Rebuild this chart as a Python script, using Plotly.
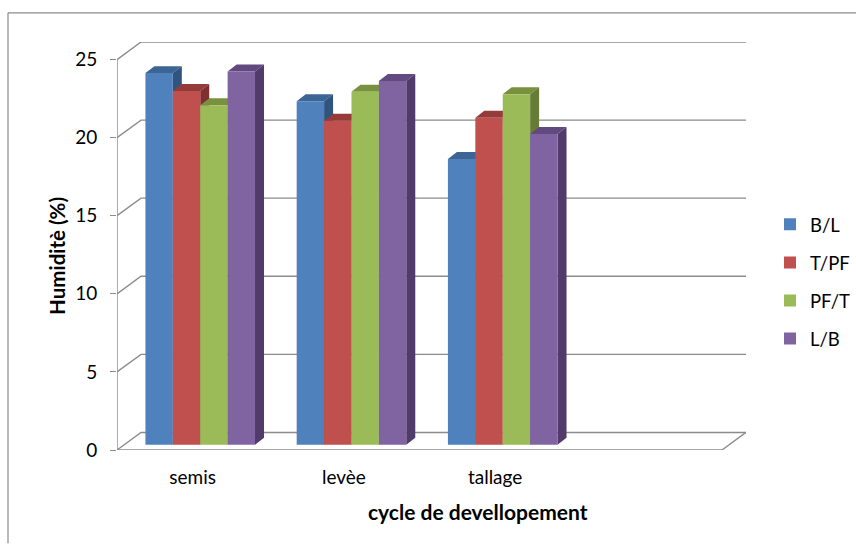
import plotly.graph_objects as go

categories = ["semis", "levèe", "tallage"]
series_names = ["B/L", "T/PF", "PF/T", "L/B"]
bl = [23.8, 22.0, 18.3]
tpf = [22.65, 20.75, 20.95]
pft = [21.75, 22.6, 22.45]
lb = [23.9, 23.3, 19.9]
series_values = [bl, tpf, pft, lb]
front_colors = ["#4F81BD", "#C0504D", "#9BBB59", "#8064A2"]
top_colors = ["#3C6494", "#953B39", "#77913F", "#62497F"]
side_colors = ["#2F5480", "#7F302E", "#667C36", "#513B6B"]
y_ticks = [0, 5, 10, 15, 20, 25]
x_title = "cycle de devellopement"
y_title = "Humiditè (%)"

FONT = "Lato"
W, H = 856, 544
L, R, T, B = 117, 746, 41.7, 450.5
n_slots = 4
cat_px = 151.25
val_px = 15.64
wall_dx = 24 / cat_px
wall_dy = 17.6 / val_px
bar_w = 27.4 / cat_px
bar_dx = 9 / cat_px
bar_dy = 7 / val_px
bar_shift = 7.6 / cat_px
bar_base = 5.2 / val_px
x0, x1 = -0.5, n_slots - 0.5
xr = [x0, x1 + wall_dx]
yr = [0, 25 + wall_dy]
line_col = "#8C8C8C"


def px_x(p):
    return (p - L) / (R - L)


def px_y(p):
    return (B - p) / (B - T)


fig = go.Figure()

# Wall and floor lines, one per value tick
lx, ly = [x0, x0, None], [0, 25, None]
lx += [x0, x1, x1 + wall_dx, None]
ly += [0, 0, wall_dy, None]
for t in y_ticks:
    lx += [x0, x0 + wall_dx, x1 + wall_dx, None]
    ly += [t, t + wall_dy, t + wall_dy, None]
fig.add_trace(go.Scatter(x=lx, y=ly, mode="lines", showlegend=False, hoverinfo="skip",
                         line=dict(color=line_col, width=1.4)))

# Top and side faces, drawn group by group from left to right
for c in range(len(categories)):
    for s, vals in enumerate(series_values):
        xl = c + bar_shift + (s - 2) * bar_w
        xh = xl + bar_w
        top = bar_base + vals[c]
        fig.add_trace(go.Scatter(
            x=[xl, xh, xh + bar_dx, xl + bar_dx, xl],
            y=[top, top, top + bar_dy, top + bar_dy, top],
            mode="lines", fill="toself", fillcolor=top_colors[s],
            line=dict(width=0), showlegend=False, hoverinfo="skip"))
        fig.add_trace(go.Scatter(
            x=[xh, xh + bar_dx, xh + bar_dx, xh, xh],
            y=[bar_base, bar_base + bar_dy, top + bar_dy, top, bar_base],
            mode="lines", fill="toself", fillcolor=side_colors[s],
            line=dict(width=0), showlegend=False, hoverinfo="skip"))

# Front faces, on an overlaid pair of axes so they cover the faces behind
for s, (name, vals) in enumerate(zip(series_names, series_values)):
    fig.add_trace(go.Bar(
        x=[i + bar_shift + (s - 1.5) * bar_w for i in range(len(categories))],
        y=vals, base=bar_base, width=bar_w, name=name, legendgroup=name,
        marker=dict(color=front_colors[s], line=dict(width=0)),
        xaxis="x2", yaxis="y2"))

fig.update_layout(
    width=W, height=H, autosize=False,
    margin=dict(l=L, r=W - R, t=T, b=H - B, pad=0, autoexpand=False),
    paper_bgcolor="white", plot_bgcolor="white",
    font=dict(family=FONT, size=19, color="#000000"),
    barmode="overlay",
    showlegend=True,
    legend=dict(x=px_x(770), xanchor="left", y=px_y(282), yanchor="middle",
                yref="paper", tracegroupgap=11, font=dict(size=18.5),
                itemclick=False, itemdoubleclick=False, bgcolor="rgba(0,0,0,0)"),
    xaxis=dict(range=xr, tickvals=list(range(len(categories))), ticktext=categories,
               showgrid=False, zeroline=False, showline=False, ticks="", ticklabelstandoff=14),
    yaxis=dict(range=yr, tickvals=y_ticks, showgrid=False, zeroline=False, showline=False,
               ticks="outside", ticklen=6, tickwidth=1.4, tickcolor=line_col, ticklabelstandoff=9),
    xaxis2=dict(range=xr, overlaying="x", visible=False),
    yaxis2=dict(range=yr, overlaying="y", visible=False),
    annotations=[
        dict(text=x_title, xref="paper", yref="paper", x=px_x(477.5), y=px_y(512),
             xanchor="center", yanchor="middle", showarrow=False,
             font=dict(size=21, weight="bold")),
        dict(text=y_title, xref="paper", yref="paper", x=px_x(57), y=px_y(256),
             xanchor="center", yanchor="middle", showarrow=False, textangle=-90,
             font=dict(size=20.5, weight="bold")),
    ],
    shapes=[
        dict(type="line", xref="paper", yref="paper", x0=px_x(8), x1=px_x(8),
             y0=px_y(H), y1=px_y(12.5), line=dict(color=line_col, width=1.2)),
        dict(type="line", xref="paper", yref="paper", x0=px_x(8), x1=px_x(W),
             y0=px_y(12.5), y1=px_y(12.5), line=dict(color=line_col, width=1.2)),
    ],
)

fig.write_html("out.html", config={"displayModeBar": False},
               post_script="document.body.style.margin='0';")
